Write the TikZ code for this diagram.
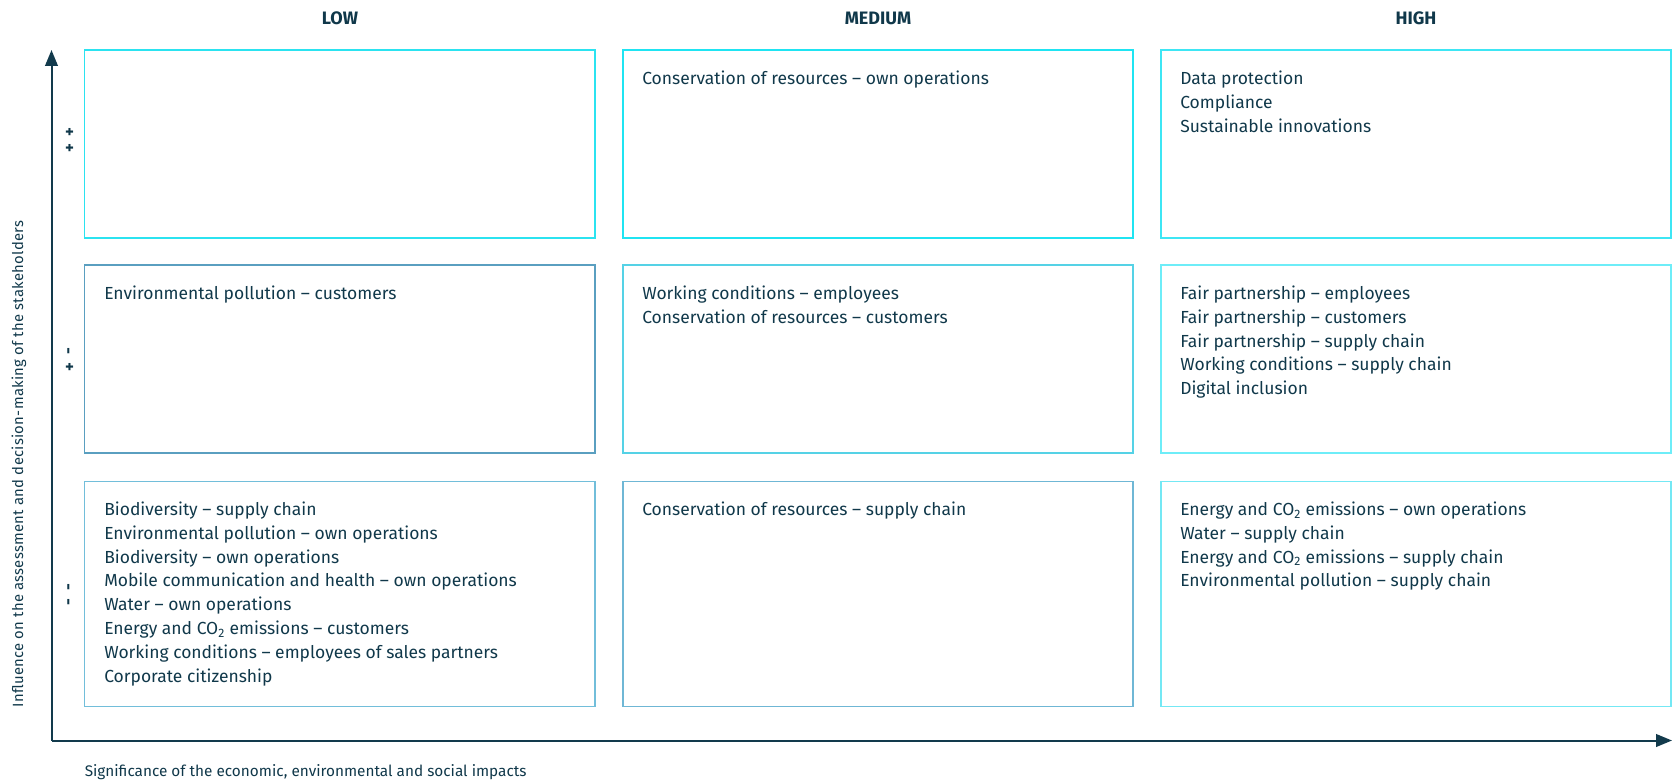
\documentclass[tikz,border=0pt]{standalone}
\usepackage{fontspec}
\setmainfont{Fira Sans}
\usetikzlibrary{arrows.meta,fit}
\definecolor{txt}{HTML}{10384A}
\definecolor{axiscol}{HTML}{123A4C}
\definecolor{bA}{HTML}{2BE3F0}
\definecolor{bB}{HTML}{1FE4F2}
\definecolor{bC}{HTML}{3EE6F4}
\definecolor{bD}{HTML}{5A9FC0}
\definecolor{bE}{HTML}{55D2E6}
\definecolor{bF}{HTML}{6EEDF8}
\definecolor{bG}{HTML}{72BEDA}
\definecolor{bH}{HTML}{6FB7D5}
\definecolor{bI}{HTML}{74E8F4}
\begin{document}
\begin{tikzpicture}[x=0.75pt,y=-0.75pt,
  box/.style={draw, line width=1.1pt, inner sep=0pt},
  body/.style={anchor=north west, inner sep=0pt, align=left, text=txt, font=\fontsize{13.1pt}{17.9pt}\selectfont},
  head/.style={text=txt, inner sep=0pt, font=\bfseries\fontsize{13.5pt}{15pt}\selectfont},
  small/.style={text=txt, inner sep=0pt, font=\fontsize{11.5pt}{12pt}\selectfont},
  rowmark/.style={text=txt, inner sep=0pt, rotate=90, font=\bfseries\fontsize{12.5pt}{12pt}\selectfont},
  axis/.style={draw=axiscol, line width=1.5pt, -{Triangle[length=12pt,width=9.5pt]}}]
\useasboundingbox (0,0) rectangle (1678,781);

% headers
\node[head] (hlow) at (340,18) {LOW};
\node[head] (hmed) at (878,18) {MEDIUM};
\node[head] (hhigh) at (1416,18) {HIGH};

% boxes
\node[box, draw=bA, fit={(84.5,50) (595,238)}] (b11) {};
\node[box, draw=bB, fit={(623,50) (1133,238)}] (b12) {};
\node[box, draw=bC, fit={(1161,50) (1671,238)}] (b13) {};
\node[box, draw=bD, fit={(84.5,265) (595,453)}] (b21) {};
\node[box, draw=bE, fit={(623,265) (1133,453)}] (b22) {};
\node[box, draw=bF, fit={(1161,265) (1671,453)}] (b23) {};
\node[box, draw=bG, fit={(84.5,481.5) (595,706.5)}] (b31) {};
\node[box, draw=bH, fit={(623,481.5) (1133,706.5)}] (b32) {};
\node[box, draw=bI, fit={(1161,481.5) (1671,706.5)}] (b33) {};

% texts
\node[body] (t12) at (642,70.5) {Conservation of resources -- own operations};
\node[body] (t13) at (1180,70.5) {Data protection\\Compliance\\Sustainable innovations};
\node[body] (t21) at (104,285.5) {Environmental pollution -- customers};
\node[body] (t22) at (642,285.5) {Working conditions -- employees\\Conservation of resources -- customers};
\node[body] (t23) at (1180,285.5) {Fair partnership -- employees\\Fair partnership -- customers\\Fair partnership -- supply chain\\Working conditions -- supply chain\\Digital inclusion};
\node[body] (t31) at (104,501.5) {Biodiversity -- supply chain\\Environmental pollution -- own operations\\Biodiversity -- own operations\\Mobile communication and health -- own operations\\Water -- own operations\\Energy and CO\textsubscript{2} emissions -- customers\\Working conditions -- employees of sales partners\\Corporate citizenship};
\node[body] (t32) at (642,501.5) {Conservation of resources -- supply chain};
\node[body] (t33) at (1180,501.5) {Energy and CO\textsubscript{2} emissions -- own operations\\Water -- supply chain\\Energy and CO\textsubscript{2} emissions -- supply chain\\Environmental pollution -- supply chain};

% row markers
\node[rowmark] (m1a) at (70.5,132) {+};
\node[rowmark] (m1b) at (70.5,148) {+};
\node[rowmark] (m2a) at (70.5,351) {-};
\node[rowmark] (m2b) at (70.5,367) {+};
\node[rowmark] (m3a) at (70.5,587) {-};
\node[rowmark] (m3b) at (70.5,602) {-};

% axes
\coordinate (origin) at (51.5,740.5);
\coordinate (ytip) at (51.5,50);
\coordinate (xtip) at (1672,740.5);
\draw[axis] (origin) -- (ytip);
\draw[axis] (origin) -- (xtip);

% axis labels
\node[small, rotate=90, font=\fontsize{11.1pt}{12pt}\selectfont\addfontfeatures{LetterSpace=2}] (ylab) at (19,464) {Influence on the assessment and decision-making of the stakeholders};
\node[small, anchor=west] (xlab) at (84.5,772) {Significance of the economic, environmental and social impacts};
\end{tikzpicture}
\end{document}
